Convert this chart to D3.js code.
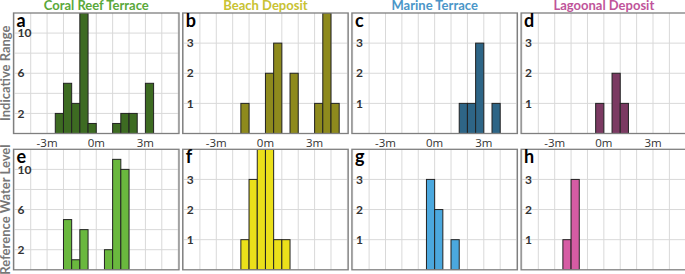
<!DOCTYPE html>
<html>
<head>
<meta charset="utf-8">
<script src="https://cdn.jsdelivr.net/npm/d3@7"></script>
<style>
  body { margin: 0; background: #fff; }
  svg { display: block; }
</style>
</head>
<body>
<div id="chart"></div>
<script>
// panel titles (top of each column)
var columnTitles = ["Coral Reef Terrace", "Beach Deposit", "Marine Terrace", "Lagoonal Deposit"];
var titleColors = ["#5aa83a", "#c8c232", "#4a96c8", "#c0549a"];
var rowLabels = ["Indicative Range", "Reference Water Level"];
var panelLetters = ["a", "b", "c", "d", "e", "f", "g", "h"];
var xTicks = [-3, 0, 3];
var xTickLabels = ["-3m", "0m", "3m"];

// histogram bins: [bin start (m), count], bins are 0.5 m wide
var coralIndicative = [[-2.5, 2], [-2, 5], [-1.5, 3], [-1, 12], [-0.5, 1], [1, 1], [1.5, 2], [2, 2], [3, 5]];
var beachIndicative = [[-1.5, 1], [0, 2], [0.5, 3], [1.5, 2], [3, 1], [3.5, 4], [4, 1]];
var marineIndicative = [[1.5, 1], [2, 1], [2.5, 3], [3.5, 1]];
var lagoonIndicative = [[-0.5, 1], [0.5, 2], [1, 1]];
var coralReference = [[-2, 5], [-1.5, 1], [-1, 4], [0.5, 2], [1, 11], [1.5, 10]];
var beachReference = [[-1.5, 1], [-1, 3], [-0.5, 4], [0, 4], [0.5, 1], [1, 1]];
var marineReference = [[-0.5, 3], [0, 2], [1, 1]];
var lagoonReference = [[-2.5, 1], [-2, 3]];

var binWidth = 0.5;
var coralYTicks = [2, 6, 10];
var coralGrid = [2, 4, 6, 8, 10];
var smallYTicks = [1, 2, 3];

var panels = [
    {data: coralIndicative, color: "#3d6b22", ymax: 12, ticks: coralYTicks, grid: coralGrid},
    {data: beachIndicative, color: "#8e8a1d", ymax: 4, ticks: smallYTicks, grid: smallYTicks},
    {data: marineIndicative, color: "#2e6586", ymax: 4, ticks: smallYTicks, grid: smallYTicks},
    {data: lagoonIndicative, color: "#7b3a62", ymax: 4, ticks: smallYTicks, grid: smallYTicks},
    {data: coralReference, color: "#6ab83e", ymax: 12, ticks: coralYTicks, grid: coralGrid},
    {data: beachReference, color: "#ebe01a", ymax: 4, ticks: smallYTicks, grid: smallYTicks},
    {data: marineReference, color: "#4ba8de", ymax: 4, ticks: smallYTicks, grid: smallYTicks},
    {data: lagoonReference, color: "#d65ca4", ymax: 4, ticks: smallYTicks, grid: smallYTicks}
];

var width = 685, height = 274;
var panelW = 165.5, panelStep = 169.2, left0 = 13.5;
var rowTops = [13, 149.3], panelH = 120.5;

var svg = d3.select("#chart").append("svg")
    .attr("width", width)
    .attr("height", height);

var x = d3.scaleLinear().domain([-5.05, 5.05]).range([0, panelW]);

var defs = svg.append("defs");

panels.forEach(function(p, i){
    var col = i % 4, row = Math.floor(i / 4);
    var px = left0 + col * panelStep, py = rowTops[row];
    var y = d3.scaleLinear().domain([0, p.ymax]).range([panelH, 0]);

    defs.append("clipPath").attr("id", "clip" + i)
        .append("rect").attr("width", panelW).attr("height", panelH);

    var g = svg.append("g").attr("transform", "translate(" + px + "," + py + ")");

    // vertical grid every metre
    g.selectAll(".vgrid")
        .data(d3.range(-5, 6))
        .enter()
        .append("line")
            .attr("x1", function(d){ return x(d); })
            .attr("x2", function(d){ return x(d); })
            .attr("y1", 0)
            .attr("y2", panelH)
            .style("stroke", "#d9d9d9")
            .style("stroke-width", "1px");

    g.selectAll(".hgrid")
        .data(p.grid)
        .enter()
        .append("line")
            .attr("x1", 0)
            .attr("x2", panelW)
            .attr("y1", function(d){ return y(d); })
            .attr("y2", function(d){ return y(d); })
            .style("stroke", "#d9d9d9")
            .style("stroke-width", "1px");

    g.append("g").attr("clip-path", "url(#clip" + i + ")")
        .selectAll("rect")
        .data(p.data)
        .enter()
        .append("rect")
            .attr("x", function(d){ return x(d[0]); })
            .attr("y", function(d){ return y(d[1]); })
            .attr("width", function(d){ return x(d[0] + binWidth) - x(d[0]); })
            .attr("height", function(d){ return panelH - y(d[1]); })
            .style("fill", p.color)
            .style("stroke", "#222")
            .style("stroke-width", "1px");

    // frame
    g.append("rect")
        .attr("width", panelW)
        .attr("height", panelH)
        .style("fill", "none")
        .style("stroke", "#7f7f7f")
        .style("stroke-width", "1.3px");

    // y tick labels sit inside the frame
    g.selectAll(".ytick")
        .data(p.ticks)
        .enter()
        .append("text")
            .attr("x", 4)
            .attr("y", function(d){ return y(d); })
            .attr("dy", "0.35em")
            .text(function(d){ return d; })
            .style("font-family", "Lato, sans-serif")
            .style("font-weight", "bold")
            .style("font-size", "12px")
            .style("fill", "#333");

    g.append("text")
        .attr("x", 3)
        .attr("y", 14)
        .text(panelLetters[i])
        .style("font-family", "Lato, sans-serif")
        .style("font-weight", "bold")
        .style("font-size", "18px")
        .style("fill", "#000");

    if(row == 0){
        svg.append("text")
            .attr("text-anchor", "middle")
            .attr("x", px + panelW / 2)
            .attr("y", 9.5)
            .text(columnTitles[col])
            .style("font-family", "Lato, sans-serif")
            .style("font-weight", "bold")
            .style("font-size", "13px")
            .style("fill", titleColors[col]);

        // x tick labels between the rows
        g.selectAll(".xtick")
            .data(xTicks)
            .enter()
            .append("text")
                .attr("text-anchor", "middle")
                .attr("x", function(d){ return x(d); })
                .attr("y", panelH + 13)
                .text(function(d, k){ return xTickLabels[k]; })
                .style("font-family", "'Open Sans', sans-serif")
                .style("font-size", "11.5px")
                .style("fill", "#333");
    }
});

rowLabels.forEach(function(label, r){
    var cy = rowTops[r] + panelH / 2;
    svg.append("text")
        .attr("text-anchor", "middle")
        .attr("transform", "translate(10," + cy + ") rotate(-90)")
        .text(label)
        .style("font-family", "Lato, sans-serif")
        .style("font-weight", "bold")
        .style("font-size", "13px")
        .style("fill", "#777");
});
</script>
</body>
</html>
